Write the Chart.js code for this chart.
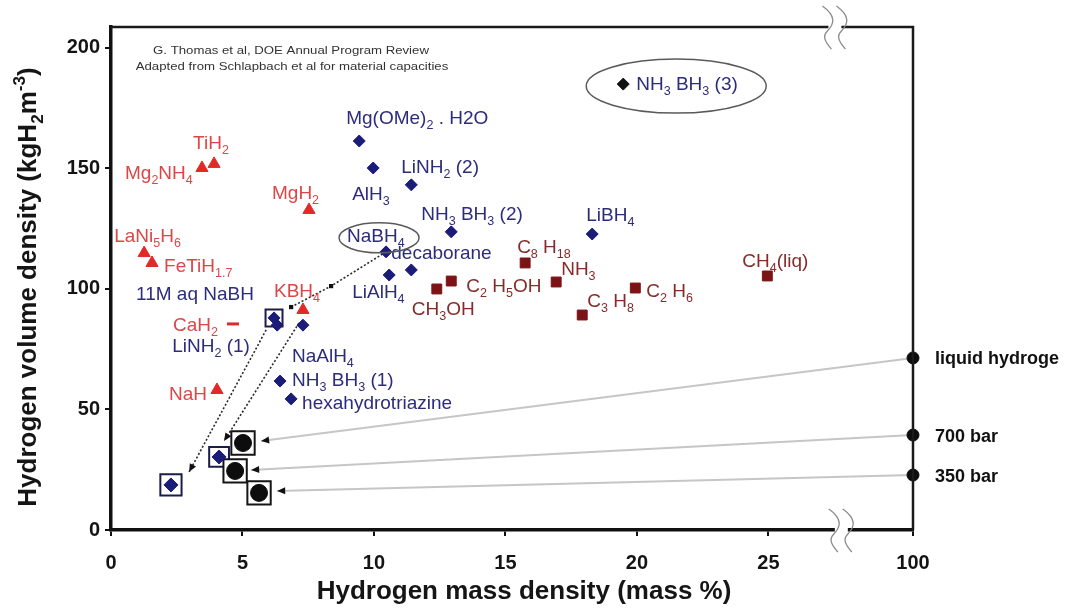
<!DOCTYPE html>
<html><head><meta charset="utf-8">
<script src="https://cdn.jsdelivr.net/npm/chart.js@4.4.1/dist/chart.umd.min.js"></script>
<style>html,body{margin:0;padding:0;background:#fff;}#wrap{width:1087px;height:611px;}</style>
</head><body><div id="wrap"><canvas id="c" width="1087" height="611"></canvas></div>
<script>
// ---------------- DATA ----------------
const xTickValues = [0, 5, 10, 15, 20, 25, 100];
const yTickValues = [0, 50, 100, 150, 200];

// metal hydrides (red triangles)
const metalNames = ['TiH_2', 'Mg_2NH_4', 'MgH_2', 'LaNi_5H_6', 'FeTiH_{1.7}', 'KBH_4', 'NaH'];
const metalX = [3.92, 3.46, 7.53, 1.26, 1.56, 7.30, 4.03];
const metalY = [151.9, 150.2, 132.8, 114.9, 110.8, 91.3, 58.1];
const cah2Names = ['CaH_2'];
const cah2X = [4.64];
const cah2Y = [85.5];

// chemical hydrides (navy diamonds)
const chemNames = ['Mg(OMe)_2 . H2O', 'AlH_3', 'LiNH_2 (2)', 'NH_3 BH_3 (2)', 'LiBH_4', 'NaBH_4',
  'decaborane', 'LiAlH_4', '11M aq NaBH', 'LiNH_2 (1)', 'NaAlH_4', 'NH_3 BH_3 (1)', 'hexahydrotriazine'];
const chemX = [9.44, 9.97, 11.42, 12.94, 18.30, 10.46, 11.42, 10.58, 6.20, 6.32, 7.30, 6.43, 6.85];
const chemY = [161.4, 150.2, 143.2, 123.7, 122.8, 115.4, 107.9, 105.8, 88.0, 85.0, 85.0, 61.8, 54.4];
const nh3bh3Names = ['NH_3 BH_3 (3)'];
const nh3bh3X = [19.48];
const nh3bh3Y = [185.0];

// chemical hydride systems (boxed diamonds)
const chemBoxX = [6.20, 4.11, 2.28];
const chemBoxY = [88.0, 30.3, 18.7];
const chemSysX = [4.11, 2.28];
const chemSysY = [30.3, 18.7];

// liquid fuels (dark red squares)
const fuelNames = ['C_8 H_{18}', 'C_2 H_5OH', 'CH_3OH', 'NH_3', 'C_3 H_8', 'C_2 H_6', 'CH_4(liq)'];
const fuelX = [15.75, 12.94, 12.39, 16.93, 17.92, 19.94, 24.96];
const fuelY = [110.8, 103.3, 100.0, 102.9, 89.2, 100.4, 105.4];

// physical storage systems (boxed black circles)
const physX = [5.02, 4.72, 5.63];
const physY = [36.1, 24.5, 15.4];
// pure hydrogen at 100 mass %
const targetNames = ['liquid hydroge', '700 bar', '350 bar'];
const targetX = [100, 100, 100];
const targetY = [71.4, 39.4, 22.8];
const arrowTipX = [5.71, 5.33, 6.32];
const arrowTipY = [36.9, 24.9, 16.2];

// dotted paths (NaBH4 dilution to systems)
const path1X = [10.46, 8.37, 6.85];
const path1Y = [115.4, 101.2, 92.5];
const path2X = [5.90, 2.97];
const path2Y = [83.0, 24.1];
const path3X = [7.15, 4.30];
const path3Y = [85.9, 36.9];
const pathDotX = [8.37, 6.85];
const pathDotY = [101.2, 92.5];

const noteLines = ['G. Thomas et al, DOE Annual Program Review',
  'Adapted from Schlapbach et al for material capacities'];
const xTitle = 'Hydrogen mass density (mass %)';
const yTitle = 'Hydrogen volume density (kgH_2m^{-3})';

// ---------------- LAYOUT / STYLE ----------------
const BREAK_POS = 30.5;              // where 100 % sits on the broken axis
function xPos(v) { return v > 30 ? BREAK_POS : v; }
const FONT = '"Liberation Sans", Arial, Helvetica, sans-serif';
const RED = '#e12a27', RED_T = '#dc4646';
const NAVY = '#1b1b7a', NAVY_T = '#2c2c7c';
const DRED = '#7c1315', DRED_T = '#862a2a';

const metalOff = [[-21,-22],[-77,4],[-37,-18],[-30,-18],[12,2],[-29,-20],[-48,3]];
const cah2Off = [[-60,0]];
const chemOff = [[-13,-24],[-21,25],[-10,-19],[-30,-19],[-6,-20],[-39,-17],[-20,-18],[-37,16],[-138,-25],[-105,20],[-11,30],[12,-2],[11,3]];
const nh3Off = [[13,-1]];
const fuelOff = [[-8,-17],[15,4],[-25,19],[5,-14],[5,-15],[11,2],[-25,-16]];
const targetOff = [[22,0],[22,0],[22,0]];

const pts = (xs, ys) => xs.map((x, i) => ({ x: xPos(x), y: ys[i] }));

const datasets = [];
const labelGroups = [];
function add(ds, labels) {
  datasets.push(ds);
  if (labels) labelGroups.push(Object.assign({ index: datasets.length - 1 }, labels));
  return datasets.length - 1;
}

// gray lines from 100 % points to systems
for (let i = 0; i < targetY.length; i++) {
  add({ data: pts([targetX[i], arrowTipX[i]], [targetY[i], arrowTipY[i]]), showLine: true,
    borderColor: '#c6c6c6', borderWidth: 2, pointRadius: 0, order: 30, clip: false, arrow: '#111' });
}
// dotted paths
add({ data: pts(path1X, path1Y), showLine: true, borderColor: '#2a2a2a', borderWidth: 1.6,
  borderDash: [2, 2], pointRadius: 0, order: 29 });
add({ data: pts(path2X, path2Y), showLine: true, borderColor: '#2a2a2a', borderWidth: 1.6,
  borderDash: [2, 2], pointRadius: 0, order: 29, arrow: '#111' });
add({ data: pts(path3X, path3Y), showLine: true, borderColor: '#2a2a2a', borderWidth: 1.6,
  borderDash: [2, 2], pointRadius: 0, order: 29, arrow: '#111' });
add({ data: pts(pathDotX, pathDotY), pointStyle: 'rect', pointRadius: 3, backgroundColor: '#111',
  borderColor: '#111', borderWidth: 0, order: 2 });
// boxes
add({ data: pts(chemBoxX, chemBoxY), pointStyle: 'rect', pointRadius: [12, 14, 15],
  backgroundColor: '#ffffff', borderColor: '#1c1c4a', borderWidth: 2, order: 26 });
add({ data: pts(physX, physY), pointStyle: 'rect', pointRadius: 16.5,
  backgroundColor: '#ffffff', borderColor: '#151515', borderWidth: 2, order: 25 });
add({ data: pts(physX, physY), pointStyle: 'circle', pointRadius: 8.5,
  backgroundColor: '#0d0d0d', borderColor: '#0d0d0d', borderWidth: 1, order: 6 });
add({ data: pts(chemSysX, chemSysY), pointStyle: 'rectRot', pointRadius: 7,
  backgroundColor: NAVY, borderColor: NAVY, borderWidth: 1, order: 6 });
// markers
add({ data: pts(metalX, metalY), pointStyle: 'triangle', pointRadius: 7,
  backgroundColor: RED, borderColor: RED, borderWidth: 1, order: 3 },
  { names: metalNames, offsets: metalOff, color: RED_T });
add({ data: pts(cah2X, cah2Y), pointStyle: 'line', pointRadius: 6,
  backgroundColor: RED, borderColor: RED, borderWidth: 3, order: 3 },
  { names: cah2Names, offsets: cah2Off, color: RED_T });
add({ data: pts(chemX, chemY), pointStyle: 'rectRot', pointRadius: 6,
  backgroundColor: NAVY, borderColor: NAVY, borderWidth: 1, order: 3 },
  { names: chemNames, offsets: chemOff, color: NAVY_T });
add({ data: pts(nh3bh3X, nh3bh3Y), pointStyle: 'rectRot', pointRadius: 6,
  backgroundColor: '#111', borderColor: '#111', borderWidth: 1, order: 3 },
  { names: nh3bh3Names, offsets: nh3Off, color: NAVY_T, ellipse: [53, 2, 90, 27] });
add({ data: pts(fuelX, fuelY), pointStyle: 'rect', pointRadius: 7,
  backgroundColor: DRED, borderColor: DRED, borderWidth: 1, order: 3 },
  { names: fuelNames, offsets: fuelOff, color: DRED_T });
add({ data: pts(targetX, targetY), pointStyle: 'circle', pointRadius: 6, clip: false,
  backgroundColor: '#0d0d0d', borderColor: '#0d0d0d', borderWidth: 1, order: 3 },
  { names: targetNames, offsets: targetOff, color: '#111', weight: 'bold', size: 18 });

// ---------------- RICH TEXT ----------------
function parseRich(s) {
  const out = []; let i = 0;
  while (i < s.length) {
    const c = s[i];
    if (c === '_' || c === '^') {
      const m = c === '_' ? 1 : 2; i++;
      let t;
      if (s[i] === '{') { const j = s.indexOf('}', i); t = s.slice(i + 1, j); i = j + 1; }
      else { t = s[i]; i++; }
      out.push({ t, m });
    } else {
      let j = i; while (j < s.length && s[j] !== '_' && s[j] !== '^') j++;
      out.push({ t: s.slice(i, j), m: 0 }); i = j;
    }
  }
  return out;
}
function drawRich(ctx, s, x, y, o) {
  const size = o.size, w = o.weight || 'normal';
  const parts = parseRich(s);
  ctx.save();
  ctx.translate(x, y);
  if (o.rotate) ctx.rotate(o.rotate);
  ctx.scale(o.sx || 1, 1);
  ctx.fillStyle = o.color; ctx.textBaseline = 'alphabetic'; ctx.textAlign = 'left';
  let total = 0; const ms = [];
  for (const p of parts) {
    const fs = p.m ? size * 0.66 : size;
    ctx.font = `${w} ${fs}px ${FONT}`;
    const wd = ctx.measureText(p.t).width; ms.push([fs, wd]); total += wd;
  }
  let cx = o.align === 'center' ? -total / 2 : (o.align === 'right' ? -total : 0);
  parts.forEach((p, i) => {
    const [fs, wd] = ms[i];
    ctx.font = `${w} ${fs}px ${FONT}`;
    const dy = p.m === 1 ? size * 0.28 : (p.m === 2 ? -size * 0.42 : 0);
    ctx.fillText(p.t, cx, dy); cx += wd;
  });
  ctx.restore();
}

// ---------------- PLUGINS ----------------
const decor = {
  id: 'decor',
  afterDatasetsDraw(chart) {
    const ctx = chart.ctx;
    // arrowheads
    chart.data.datasets.forEach((ds, i) => {
      if (!ds.arrow) return;
      const el = chart.getDatasetMeta(i).data;
      const a = el[el.length - 2], b = el[el.length - 1];
      const ang = Math.atan2(b.y - a.y, b.x - a.x);
      ctx.save(); ctx.translate(b.x, b.y); ctx.rotate(ang);
      ctx.fillStyle = ds.arrow; ctx.beginPath();
      ctx.moveTo(0, 0); ctx.lineTo(-8, -3.5); ctx.lineTo(-8, 3.5); ctx.closePath(); ctx.fill();
      ctx.restore();
    });
    // labels
    for (const g of labelGroups) {
      const el = chart.getDatasetMeta(g.index).data;
      const size = g.size || 19;
      g.names.forEach((n, j) => {
        const p = el[j]; const [dx, dy] = g.offsets[j];
        drawRich(ctx, n, p.x + dx, p.y + dy + size * 0.36, { size, color: g.color, weight: g.weight });
      });
      if (g.ellipse) {
        const p = el[0]; const [ex, ey, rx, ry] = g.ellipse;
        ctx.save(); ctx.strokeStyle = '#5a5a5a'; ctx.lineWidth = 1.5;
        ctx.beginPath(); ctx.ellipse(p.x + ex, p.y + ey, rx, ry, 0, 0, Math.PI * 2); ctx.stroke(); ctx.restore();
      }
    }
    // NaBH4 ellipse
    const chemMeta = chart.getDatasetMeta(labelGroups.find(g => g.names === chemNames).index).data;
    const nb = chemMeta[chemNames.indexOf('NaBH_4')];
    ctx.save(); ctx.strokeStyle = '#5a5a5a'; ctx.lineWidth = 1.5;
    ctx.beginPath(); ctx.ellipse(nb.x - 7, nb.y - 14, 40, 15, 0, 0, Math.PI * 2); ctx.stroke(); ctx.restore();
  },
  afterDraw(chart) {
    const ctx = chart.ctx, a = chart.chartArea;
    // top and right frame
    ctx.save(); ctx.strokeStyle = '#1a1a1a'; ctx.lineWidth = 2.5;
    ctx.beginPath(); ctx.moveTo(a.left, a.top); ctx.lineTo(a.right, a.top); ctx.lineTo(a.right, a.bottom); ctx.stroke();
    ctx.restore();
    // axis breaks
    function brk(cx, cy) {
      ctx.save();
      ctx.fillStyle = '#fff'; ctx.fillRect(cx - 6, cy - 3, 13, 6);
      ctx.strokeStyle = '#8a8a8a'; ctx.lineWidth = 1.3;
      for (const d of [-7, 7]) {
        const x = cx + d;
        ctx.beginPath(); ctx.moveTo(x - 5, cy - 21);
        ctx.bezierCurveTo(x + 9, cy - 11, x + 7, cy - 3, x, cy + 4);
        ctx.bezierCurveTo(x - 5, cy + 9, x - 3, cy + 14, x + 4, cy + 22);
        ctx.stroke();
      }
      ctx.restore();
    }
    brk(a.left + (a.right - a.left) * 0.902, a.top);
    brk(a.left + (a.right - a.left) * 0.91, a.bottom);
    // note
    drawRich(ctx, noteLines[0], 291, 54, { size: 11, color: '#333', align: 'center', sx: 1.2 });
    drawRich(ctx, noteLines[1], 292, 70, { size: 11, color: '#333', align: 'center', sx: 1.2 });
    // axis titles
    drawRich(ctx, xTitle, 524, 599, { size: 26, weight: 'bold', color: '#151515', align: 'center' });
    drawRich(ctx, yTitle, 36, 287, { size: 26, weight: 'bold', color: '#151515', align: 'center', rotate: -Math.PI / 2 });
  }
};

new Chart(document.getElementById('c'), {
  type: 'scatter',
  data: { datasets },
  options: {
    responsive: false, animation: false, devicePixelRatio: 1,
    layout: { padding: { left: 0, top: 27, right: 174, bottom: 0 } },
    plugins: { legend: { display: false }, tooltip: { enabled: false } },
    elements: { point: { hoverRadius: 0 } },
    scales: {
      x: {
        type: 'linear', min: 0, max: BREAK_POS,
        afterBuildTicks: s => { s.ticks = xTickValues.map(v => ({ value: xPos(v) })); },
        afterFit: s => { s.height = 81; },
        ticks: { autoSkip: false, maxRotation: 0, padding: 15, color: '#141414',
          font: { family: FONT, size: 20, weight: 'bold' },
          callback: (v, i) => String(xTickValues[i]) },
        grid: { display: true, drawOnChartArea: false, drawTicks: true, tickLength: 6, color: '#111', lineWidth: 2 },
        border: { display: true, color: '#111', width: 3.5 }
      },
      y: {
        type: 'linear', min: 0, max: 208.7,
        afterBuildTicks: s => { s.ticks = yTickValues.map(v => ({ value: v })); },
        afterFit: s => { s.width = 111; },
        ticks: { autoSkip: false, padding: 5, color: '#141414',
          font: { family: FONT, size: 20, weight: 'bold' },
          callback: (v, i) => String(yTickValues[i]) },
        grid: { display: true, drawOnChartArea: false, drawTicks: true, tickLength: 6, color: '#111', lineWidth: 2 },
        border: { display: true, color: '#111', width: 3.5 }
      }
    }
  },
  plugins: [decor]
});
</script>
</body></html>
